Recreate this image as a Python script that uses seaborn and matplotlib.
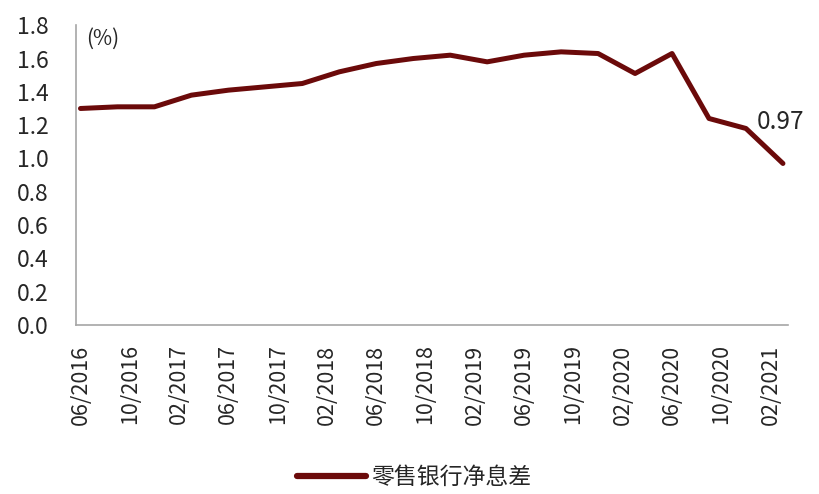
import pandas as pd
import matplotlib.pyplot as plt
import seaborn as sns

# quarterly data points (month/year)
quarters = ["06/2016", "09/2016", "12/2016", "03/2017", "06/2017", "09/2017", "12/2017",
            "03/2018", "06/2018", "09/2018", "12/2018", "03/2019", "06/2019", "09/2019",
            "12/2019", "03/2020", "06/2020", "09/2020", "12/2020", "03/2021"]
nim = [1.30, 1.31, 1.31, 1.38, 1.41, 1.43, 1.45, 1.52, 1.57, 1.60, 1.62, 1.58, 1.62, 1.64,
       1.63, 1.51, 1.63, 1.24, 1.18, 0.97]

tick_labels = ["06/2016", "10/2016", "02/2017", "06/2017", "10/2017", "02/2018", "06/2018",
               "10/2018", "02/2019", "06/2019", "10/2019", "02/2020", "06/2020", "10/2020",
               "02/2021"]
series_name = "零售银行净息差"


def month_offset(s):
    m, y = s.split("/")
    return (int(y) - 2016) * 12 + int(m) - 6


df = pd.DataFrame({"month": [month_offset(q) for q in quarters], "value": nim,
                   "series": series_name})

sns.set_style("white")
plt.rcParams["font.family"] = ["Noto Sans CJK SC", "DejaVu Sans"]

fig = plt.figure(figsize=(8.19, 4.94), dpi=100)
ax = fig.add_axes([0.093, 0.342, 0.869, 0.607])

line_color = "#6B0A0A"
sns.lineplot(data=df, x="month", y="value", hue="series", palette=[line_color],
             linewidth=3.6, ax=ax)

ax.set_ylim(0, 1.8)
ax.set_yticks([i / 5 for i in range(10)])
ax.set_yticklabels([f"{i / 5:.1f}" for i in range(10)], fontsize=16.5)
ax.set_xlim(-0.35, 57.4)
ax.set_xticks([month_offset(t) for t in tick_labels])
ax.set_xticklabels(tick_labels, rotation=90, fontsize=15.5)
ax.tick_params(axis="y", length=0, pad=20)
ax.tick_params(axis="x", length=0, pad=14)
ax.set_xlabel("")
ax.set_ylabel("")

for side in ["top", "right"]:
    ax.spines[side].set_visible(False)
for side in ["left", "bottom"]:
    ax.spines[side].set_color("#A6A6A6")
    ax.spines[side].set_linewidth(1.2)

ax.text(0.014, 0.955, "(%)", transform=ax.transAxes, fontsize=15, va="center", ha="left")
ax.annotate(f"{nim[-1]:.2f}", xy=(df["month"].iloc[-1], nim[-1]), xytext=(-19, 30),
            textcoords="offset points", fontsize=17.5, ha="left", va="center")

leg = ax.legend(loc="upper center", bbox_to_anchor=(0.475, -0.40), frameon=False,
                fontsize=16.5, handlelength=3.0, handletextpad=0.25)
for h in leg.get_lines():
    h.set_linewidth(4.5)

fig.savefig("out.png", dpi=100)
